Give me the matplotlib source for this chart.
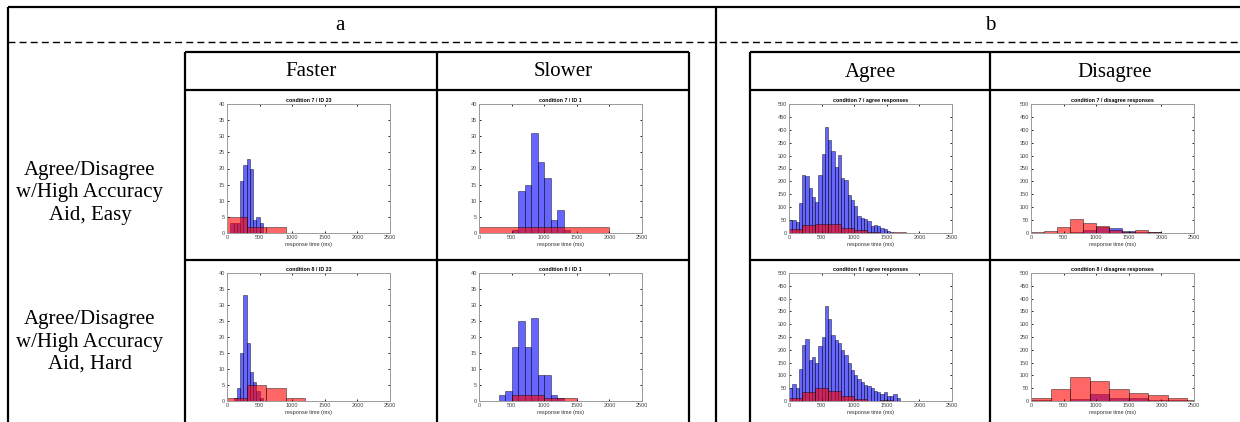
import matplotlib.pyplot as plt
import numpy as np

# table text
group_labels = ["a", "b"]
col_labels = ["Faster", "Slower", "Agree", "Disagree"]
row_labels = ["Agree/Disagree\nw/High Accuracy\nAid, Easy",
              "Agree/Disagree\nw/High Accuracy\nAid, Hard"]
titles = [["condition 7 / ID 23", "condition 7 / ID 1",
           "condition 7 / agree responses", "condition 7 / disagree responses"],
          ["condition 8 / ID 23", "condition 8 / ID 1",
           "condition 8 / agree responses", "condition 8 / disagree responses"]]

# histograms: (first bin edge, bin width, counts)
c7_id23_blue = (50, 50, [3, 3, 3, 16, 21, 23, 20, 4, 5, 3])
c7_id23_red = (0, 300, [5, 2, 2])
c7_id1_blue = (500, 100, [1, 13, 15, 31, 22, 17, 4, 7, 1])
c7_id1_red = (0, 2000, [2])
c7_agree_blue = (0, 50, [50, 50, 42, 116, 224, 220, 174, 141, 120, 224, 307, 410,
                         362, 318, 256, 302, 212, 207, 147, 129, 105, 67, 59, 53,
                         45, 28, 30, 26, 20, 16, 8, 3])
c7_agree_red = (0, 200, [15, 30, 35, 35, 20, 10, 3, 0, 5])
c7_disagree_blue = (0, 200, [0, 0, 0, 3, 10, 24, 21, 8, 3, 5])
c7_disagree_red = (0, 200, [4, 8, 22, 55, 38, 26, 10, 5, 10, 4])

c8_id23_blue = (100, 50, [1, 4, 15, 33, 18, 9, 6, 3, 1])
c8_id23_red = (0, 300, [1, 5, 4, 1])
c8_id1_blue = (300, 100, [2, 3, 17, 25, 17, 26, 8, 8, 2, 1])
c8_id1_red = (500, 500, [2, 1])
c8_agree_blue = (0, 50, [50, 67, 52, 126, 220, 241, 160, 172, 148, 215, 250, 370,
                         322, 256, 238, 225, 200, 181, 148, 122, 101, 85, 73, 62,
                         57, 49, 41, 36, 28, 36, 21, 21, 28, 13])
c8_agree_red = (0, 200, [12, 37, 52, 40, 20, 8, 1, 2])
c8_disagree_blue = (0, 300, [5, 0, 8, 26, 12, 12, 4, 4, 0])
c8_disagree_red = (0, 300, [10, 48, 92, 78, 48, 33, 22, 12, 4])

panels = [[(c7_id23_blue, c7_id23_red, 40), (c7_id1_blue, c7_id1_red, 40),
           (c7_agree_blue, c7_agree_red, 500), (c7_disagree_blue, c7_disagree_red, 500)],
          [(c8_id23_blue, c8_id23_red, 40), (c8_id1_blue, c8_id1_red, 40),
           (c8_agree_blue, c8_agree_red, 500), (c8_disagree_blue, c8_disagree_red, 500)]]

W, H = 1240, 422
fig = plt.figure(figsize=(W / 100, H / 100), dpi=100)

# background axes in pixel units for the table grid
base = fig.add_axes([0, 0, 1, 1])
base.set_xlim(0, W)
base.set_ylim(H, 0)
base.axis("off")

lw = 1.6
def hline(y, x0, x1, **kw):
    base.plot([x0, x1], [y, y], color="black", lw=kw.pop("lw", lw),
              solid_capstyle="butt", **kw)

def vline(x, y0, y1):
    base.plot([x, x], [y0, y1], color="black", lw=lw, solid_capstyle="butt")

hline(7, 8, W)
vline(8, 7, H)
vline(716, 7, H)
hline(42, 8, W, lw=1.0, linestyle=(0, (5, 3)))

for x0, xs, x1 in [(185, [185, 437, 689], 689), (750, [750, 990], W)]:
    for y in [52, 90, 260]:
        hline(y, x0, x1)
    for x in xs:
        vline(x, 52, H)

serif = "Liberation Serif"
base.text(340, 25, group_labels[0], ha="center", va="center", fontsize=15, family=serif)
base.text(990, 25, group_labels[1], ha="center", va="center", fontsize=15, family=serif)
for cx, lab in zip([311, 563, 870, 1115], col_labels):
    base.text(cx, 72, lab, ha="center", va="center", fontsize=15, family=serif)
for cy, lab in zip([193, 342], row_labels):
    base.text(90, cy, lab, ha="center", va="center", fontsize=15, family=serif,
              linespacing=1.25)

# histogram axes positions (pixels)
col_px = [(227, 390), (479, 642), (789, 952), (1031, 1194)]
row_px = [(104, 233), (273, 401)]
sans = "Liberation Sans"

def draw_hist(ax, spec, color):
    start, width, counts = spec
    edges = start + width * np.arange(len(counts))
    ax.bar(edges, counts, width=width, align="edge", color=color, alpha=0.6,
           edgecolor="black", linewidth=0.5)

for r, (top, bot) in enumerate(row_px):
    for c, (left, right) in enumerate(col_px):
        ax = fig.add_axes([left / W, 1 - bot / H, (right - left) / W, (bot - top) / H])
        blue, red, ymax = panels[r][c]
        draw_hist(ax, blue, "blue")
        draw_hist(ax, red, "red")
        ax.set_xlim(0, 2500)
        ax.set_ylim(0, ymax)
        ax.set_xticks(np.arange(0, 2501, 500))
        ax.set_yticks(np.arange(0, ymax + 1, 5 if ymax == 40 else 50))
        ax.tick_params(direction="in", length=1.5, width=0.6, top=True, right=True,
                       labelsize=4.0, labelcolor="#444444", pad=1.5)
        for lab in ax.get_xticklabels() + ax.get_yticklabels():
            lab.set_family(sans)
        for sp in ax.spines.values():
            sp.set_color("#9a9a9a")
            sp.set_linewidth(0.7)
        ax.set_title(titles[r][c], fontsize=3.8, fontweight="bold", family=sans, pad=1.5)
        ax.set_xlabel("response time (ms)", fontsize=4.0, family=sans, labelpad=1.5,
                      color="#333333")

fig.savefig("out.png", dpi=100)
